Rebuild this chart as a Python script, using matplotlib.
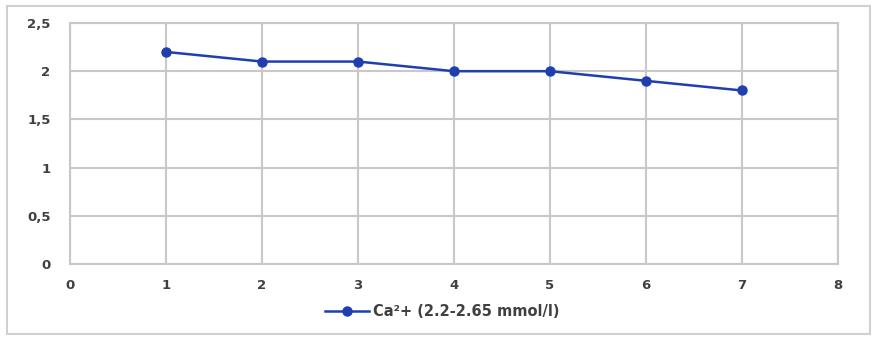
import matplotlib
matplotlib.use("Agg")
import matplotlib.pyplot as plt
from matplotlib.patches import Rectangle

x_vals = [1, 2, 3, 4, 5, 6, 7]
ca_vals = [2.2, 2.1, 2.1, 2.0, 2.0, 1.9, 1.8]
y_ticks = [0, 0.5, 1, 1.5, 2, 2.5]
y_labels = ["0", "0,5", "1", "1,5", "2", "2,5"]
x_ticks = [0, 1, 2, 3, 4, 5, 6, 7, 8]
series_name = "Ca²+ (2.2-2.65 mmol/l)"

grid_col = "#c8c8c8"
line_col = "#1f3fae"
text_col = "#404040"

fig = plt.figure(figsize=(8.81, 3.46), dpi=100)
fig.patches.append(Rectangle((7 / 881, 12 / 346), 863 / 881, 328 / 346,
                             transform=fig.transFigure, fill=False,
                             edgecolor="#d0d0d0", linewidth=1.5))

ax = fig.add_axes([70 / 881, 82 / 346, 768 / 881, 241 / 346])
ax.plot(x_vals, ca_vals, color=line_col, linewidth=1.8, marker="o",
        markersize=6.5, label=series_name, zorder=3)

ax.set_xlim(0, 8)
ax.set_ylim(0, 2.5)
ax.set_xticks(x_ticks)
ax.set_yticks(y_ticks)
ax.set_yticklabels(y_labels)
ax.grid(True, color=grid_col, linewidth=1.5)
ax.set_axisbelow(True)
for s in ax.spines.values():
    s.set_color(grid_col)
    s.set_linewidth(1.5)
ax.tick_params(axis="y", length=0, labelsize=9.5, colors=text_col, pad=14)
ax.tick_params(axis="x", length=0, labelsize=9.5, colors=text_col, pad=11)
for lab in ax.get_xticklabels() + ax.get_yticklabels():
    lab.set_fontweight("bold")

leg = fig.legend(loc="center", bbox_to_anchor=(0.502, 34 / 346), frameon=False,
                 prop={"weight": "bold", "size": 10.5}, handlelength=3.0,
                 handletextpad=0.3)
for t in leg.get_texts():
    t.set_color(text_col)

fig.savefig("out.png", dpi=100)
